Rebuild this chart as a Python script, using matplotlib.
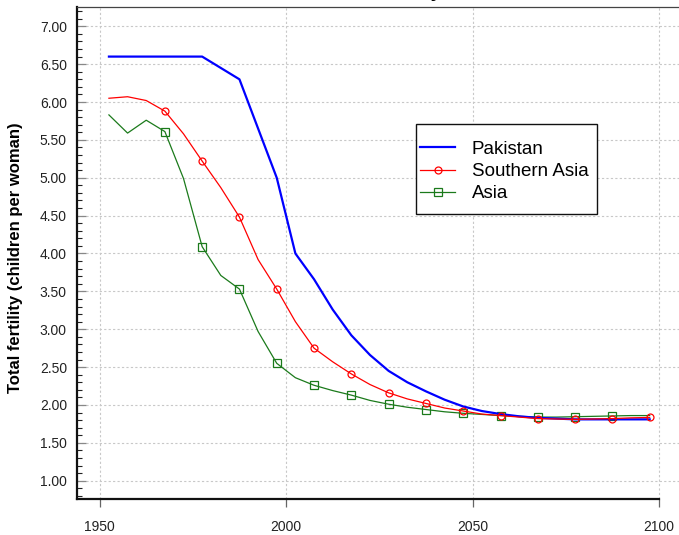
import matplotlib
matplotlib.use("Agg")
import matplotlib.pyplot as plt
from matplotlib.patches import Rectangle
from matplotlib.ticker import MultipleLocator, FormatStrFormatter

plt.rcParams["font.family"] = ["Liberation Sans", "DejaVu Sans"]

# 5-year period midpoints (UN WPP style)
years = [1952.5, 1957.5, 1962.5, 1967.5, 1972.5, 1977.5, 1982.5, 1987.5,
         1992.5, 1997.5, 2002.5, 2007.5, 2012.5, 2017.5, 2022.5, 2027.5,
         2032.5, 2037.5, 2042.5, 2047.5, 2052.5, 2057.5, 2062.5, 2067.5,
         2072.5, 2077.5, 2082.5, 2087.5, 2092.5, 2097.5]

pakistan = [6.60, 6.60, 6.60, 6.60, 6.60, 6.60, 6.45, 6.30, 5.65, 5.00,
            4.00, 3.66, 3.26, 2.92, 2.66, 2.45, 2.30, 2.18, 2.07, 1.98,
            1.92, 1.88, 1.85, 1.83, 1.82, 1.81, 1.81, 1.81, 1.81, 1.81]

southern_asia = [6.05, 6.07, 6.02, 5.88, 5.58, 5.22, 4.87, 4.48, 3.92, 3.53,
                 3.10, 2.75, 2.57, 2.41, 2.27, 2.16, 2.08, 2.02, 1.96, 1.92,
                 1.88, 1.86, 1.84, 1.82, 1.815, 1.81, 1.815, 1.82, 1.83, 1.835]

asia = [5.83, 5.59, 5.76, 5.61, 4.99, 4.09, 3.71, 3.53, 2.97, 2.55,
        2.36, 2.26, 2.19, 2.13, 2.06, 2.01, 1.97, 1.94, 1.91, 1.89,
        1.875, 1.86, 1.85, 1.84, 1.84, 1.845, 1.85, 1.855, 1.86, 1.86]

labels = ["Pakistan", "Southern Asia", "Asia"]
title = "Total fertility"
ylabel = "Total fertility (children per woman)"

W, H = 679, 535
fig = plt.figure(figsize=(W / 100, H / 100), dpi=100)
left, right, bottom, top = 76.6, 679, 499, 7.3
ax = fig.add_axes([left / W, 1 - bottom / H, (right - left) / W, (bottom - top) / H])

green = "#1b7a1b"
ax.plot(years, pakistan, color="#0000ff", lw=1.6, label=labels[0], zorder=3)
ax.plot(years, southern_asia, color="#ff0000", lw=0.9, marker="o", ms=5.0,
        mfc="none", mec="#ff0000", mew=0.9, markevery=list(range(3, 30, 2)),
        label=labels[1], zorder=4)
ax.plot(years, asia, color=green, lw=0.9, marker="s", ms=5.3,
        mfc="none", mec=green, mew=0.9, markevery=list(range(3, 28, 2)),
        label=labels[2], zorder=2)

# limits derived from the pixel layout of the reference
ppy = (659.0 - 99.6) / 150
ax.set_xlim(1950 - (99.6 - left) / ppy, 2100 + (right - 659.0) / ppy)
ppu = (480.7 - 26.3) / 6
ax.set_ylim(1 - (bottom - 480.7) / ppu, 7 + (26.3 - top) / ppu)

ax.xaxis.set_major_locator(MultipleLocator(50))
ax.yaxis.set_minor_locator(MultipleLocator(0.1))
ax.yaxis.set_major_formatter(FormatStrFormatter("%.2f"))
ax.set_yticks([1.0 + 0.5 * i for i in range(13)])

ax.grid(True, which="major", color="#c8c8c8", lw=0.8, linestyle=(0, (2, 2)))
ax.set_axisbelow(True)

ax.tick_params(axis="x", which="major", direction="out", length=6, width=0.9,
               color="#666666", pad=9, labelsize=10, labelcolor="#222222")
ax.tick_params(axis="y", which="major", direction="in", length=6.5, width=0.9,
               color="#888888", pad=7, labelsize=10, labelcolor="#222222")
ax.tick_params(axis="y", which="minor", direction="in", length=3.5, width=0.8,
               color="#222222")

for side in ["left", "bottom"]:
    ax.spines[side].set_linewidth(1.6)
    ax.spines[side].set_color("#111111")
ax.spines["top"].set_linewidth(0.9)
ax.spines["top"].set_color("#444444")
ax.spines["right"].set_visible(False)
ax.spines["bottom"].set_bounds(ax.get_xlim()[0], 2100)

ax.set_ylabel(ylabel, fontsize=12, fontweight="bold")
ax.yaxis.set_label_coords((23 - left) / (right - left), 0.49)

# legend frame drawn separately so its padding matches the reference
frame = Rectangle((415.7 / W, 1 - 214 / H), 181.6 / W, 90 / H,
                  transform=fig.transFigure, facecolor="white",
                  edgecolor="#111111", lw=1.0, zorder=4.9)
ax.add_artist(frame)
leg = ax.legend(loc="center left", bbox_to_anchor=(420 / W, 1 - 171.5 / H),
                bbox_transform=fig.transFigure, fontsize=13.5, frameon=False,
                borderpad=0, handlelength=1.87, handletextpad=0.89,
                labelspacing=0.27, borderaxespad=0)
leg.set_zorder(5)

# title sits mostly above the cropped top edge
fig.text(441 / W, 1 + 3 / H, title, ha="right", va="baseline",
         fontsize=14, fontweight="bold")

fig.savefig("out.png", dpi=100)
